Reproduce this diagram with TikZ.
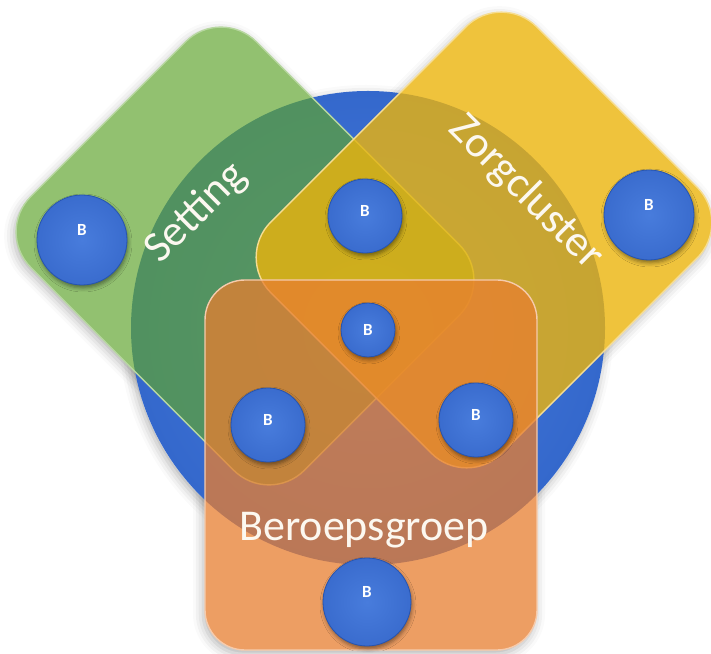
\documentclass[tikz,border=0pt]{standalone}
\usepackage{fontspec}
\setmainfont{Carlito}
\usetikzlibrary{shadows.blur}
\definecolor{wheelin}{RGB}{74,124,220}
\definecolor{wheelout}{RGB}{52,104,204}
\definecolor{ballblue}{RGB}{58,108,206}
\definecolor{balldark}{RGB}{38,84,176}
\definecolor{ballhigh}{RGB}{72,124,220}
\definecolor{settinggreen}{RGB}{95,165,45}
\definecolor{zorgyellow}{RGB}{236,180,12}
\definecolor{beroeporange}{RGB}{232,126,48}
\definecolor{labelwhite}{RGB}{252,248,240}
\begin{document}
\begin{tikzpicture}[x=1pt, y=1pt,
    base/.style = {fill = white,
                   blur shadow = {shadow xshift = -2pt, shadow yshift = -4pt,
                                  shadow blur radius = 10pt, shadow opacity = 30}},
    panel/.style = {shape = rectangle, inner sep = 0pt, rounded corners = 50pt},
    settingbox/.style = {panel, rotate = -45, minimum width = 387pt, minimum height = 319pt},
    zorgbox/.style = {panel, rotate = -45, minimum width = 327pt, minimum height = 376pt},
    beroepbox/.style = {panel, rounded corners = 40pt, minimum width = 332pt, minimum height = 370pt},
    wheelshape/.style = {shape = circle, inner sep = 0pt, minimum size = 474pt},
    glass/.style = {line width = 1.4pt},
    bubble/.style = {shape = circle, inner sep = 0pt, draw = balldark, line width = .8pt,
                     inner color = ballhigh, outer color = ballblue, text = white,
                     font = \fontsize{17}{17}\selectfont\bfseries,
                     blur shadow = {shadow xshift = 1pt, shadow yshift = -3pt,
                                    shadow blur radius = 4pt, shadow opacity = 45}},
    title/.style = {text = labelwhite, font = \fontsize{44}{44}\selectfont}]
    \useasboundingbox (0,0) rectangle (711,653);
    \coordinate (cC) at (368,325);
    \coordinate (cS) at (245,397);
    \coordinate (cZ) at (484,413);
    \coordinate (cB) at (371,188);
    % white bases with soft shadows
    \node[base, wheelshape] (baseC) at (cC) {};
    \node[base, settingbox] (baseS) at (cS) {};
    \node[base, zorgbox] (baseZ) at (cZ) {};
    \node[base, beroepbox] (baseB) at (cB) {};
    % circle and the three panels
    \node[wheelshape, inner color = wheelin, outer color = wheelout] (wheel) at (cC) {};
    \node[settingbox, glass, fill = settinggreen, fill opacity = .68,
          draw = settinggreen!45!white] (setting) at (cS) {};
    \node[zorgbox, glass, fill = zorgyellow, fill opacity = .8,
          draw = zorgyellow!45!white] (zorg) at (cZ) {};
    \node[beroepbox, glass, fill = beroeporange, fill opacity = .75,
          draw = beroeporange!40!white] (beroep) at (cB) {};
    % bubbles
    \node[bubble, minimum size = 90pt, text depth = 20pt] (bS) at (82,413) {B};
    \node[bubble, minimum size = 90pt, text depth = 20pt] (bZ) at (649,438) {B};
    \node[bubble, minimum size = 74pt, text depth = 10pt] (bSZ) at (365,437) {B};
    \node[bubble, minimum size = 54pt] (bSZB) at (368,323) {B};
    \node[bubble, minimum size = 74pt, text depth = 10pt] (bSB) at (268,228) {B};
    \node[bubble, minimum size = 74pt, text depth = 10pt] (bZB) at (476,233) {B};
    \node[bubble, minimum size = 88pt, text depth = 20pt] (bB) at (367,51) {B};
    % labels
    \node[title, rotate = 45] (lS) at (196,440) {Setting};
    \node[title, rotate = -45] (lZ) at (526,460) {Zorgcluster};
    \node[title, anchor = base] (lB) at (364,113) {Beroepsgroep};
\end{tikzpicture}
\end{document}
